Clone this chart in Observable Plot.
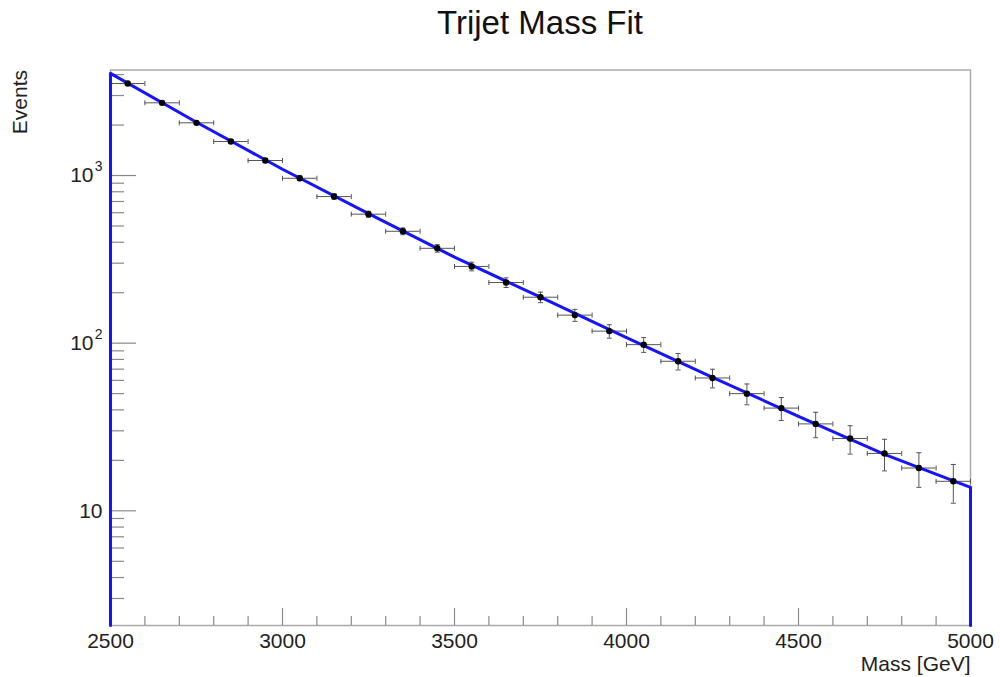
<!DOCTYPE html>
<html>
<head>
<meta charset="utf-8">
<script src="https://cdn.jsdelivr.net/npm/d3@7"></script>
<script src="https://cdn.jsdelivr.net/npm/@observablehq/plot@0.6"></script>
<style>
  html, body { margin: 0; padding: 0; background: #fff; }
  #wrap { position: relative; width: 1000px; height: 677px; font-family: "Liberation Sans", Arial, sans-serif; }
  #title { position: absolute; left: 540px; top: 4px; transform: translateX(-50%); font-size: 33px; color: #111; white-space: nowrap; }
  #chart { position: absolute; left: 0; top: 50px; }
</style>
</head>
<body>
<div id="wrap">
  <div id="title">Trijet Mass Fit</div>
  <div id="chart"></div>
</div>
<script>
// Bin centers (GeV), events per bin and their statistical errors
const binCenters = [2550, 2650, 2750, 2850, 2950, 3050, 3150, 3250, 3350, 3450, 3550, 3650, 3750, 3850, 3950, 4050, 4150, 4250, 4350, 4450, 4550, 4650, 4750, 4850, 4950];
const events = [3538, 2714, 2062, 1595, 1229, 963, 749, 588, 465, 368, 287, 230, 188, 147, 118, 98, 78, 62, 50, 41, 33, 27, 22, 18, 15];
const eventErrors = [59.5, 52.1, 45.4, 39.9, 35.1, 31.0, 27.4, 24.2, 21.6, 19.2, 16.9, 15.2, 13.7, 12.1, 10.9, 9.9, 8.8, 7.9, 7.1, 6.4, 5.7, 5.2, 4.7, 4.2, 3.9];
const binHalfWidth = 50;

// Fit curve
const fitMass = [2500, 2750, 3000, 3250, 3500, 3750, 4000, 4250, 4500, 4750, 5000];
const fitValues = [4070, 2080, 1090, 592, 326, 188, 108, 62.5, 36.6, 21.7, 13.8];

// Axis ranges and ticks
const xDomain = [2500, 5000];
const yDomain = [2.07, 4260];
const xMajorTicks = [2500, 3000, 3500, 4000, 4500, 5000];
const xMinorTicks = [2600, 2700, 2800, 2900, 3100, 3200, 3300, 3400, 3600, 3700, 3800, 3900, 4100, 4200, 4300, 4400, 4600, 4700, 4800, 4900];
const yMajorTicks = [10, 100, 1000];
const yMinorTicks = [3, 4, 5, 6, 7, 8, 9, 20, 30, 40, 50, 60, 70, 80, 90, 200, 300, 400, 500, 600, 700, 800, 900, 2000, 3000, 4000];
const yLabelPlain = [10];
const yLabelPower = [100, 1000];
const yLabelExponents = ["2", "3"];

const points = binCenters.map((m, i) => ({m, v: events[i], e: eventErrors[i]}));
const fitLine = [{m: xDomain[0], v: yDomain[0]}]
  .concat(fitMass.map((m, i) => ({m, v: fitValues[i]})))
  .concat([{m: xDomain[1], v: yDomain[0]}]);

const W = 1000, H = 627;
const mL = 110, mR = 30, mT = 19.5, mB = 52;
const innerW = W - mL - mR, innerH = H - mT - mB;

const capV = {draw(ctx) { ctx.moveTo(0, -2.5); ctx.lineTo(0, 2.5); }};
const capH = {draw(ctx) { ctx.moveTo(-2.5, 0); ctx.lineTo(2.5, 0); }};

const font = "Liberation Sans, Arial, sans-serif";
const tickColor = "#8a8a8a";
const textColor = "#222";

const chart = Plot.plot({
  width: W,
  height: H,
  marginLeft: mL,
  marginRight: mR,
  marginTop: mT,
  marginBottom: mB,
  style: {fontFamily: font, background: "#fff", overflow: "visible"},
  x: {type: "linear", domain: xDomain, axis: null},
  y: {type: "log", domain: yDomain, axis: null},
  marks: [
    Plot.frame({stroke: "#aaa", strokeWidth: 1.5}),
    // ticks (inward)
    Plot.tickX(xMajorTicks, {x: d => d, insetTop: innerH - 17, stroke: tickColor, strokeWidth: 1.2}),
    Plot.tickX(xMinorTicks, {x: d => d, insetTop: innerH - 9, stroke: tickColor, strokeWidth: 1.2}),
    Plot.tickY(yMajorTicks, {y: d => d, insetRight: innerW - 26, stroke: tickColor, strokeWidth: 1.2}),
    Plot.tickY(yMinorTicks, {y: d => d, insetRight: innerW - 14, stroke: tickColor, strokeWidth: 1.2}),
    // tick labels
    Plot.text(xMajorTicks, {x: d => d, frameAnchor: "bottom", dy: 22, text: d => String(d), fontSize: 21, fill: textColor}),
    Plot.text(yLabelPlain, {y: d => d, frameAnchor: "left", dx: -8, textAnchor: "end", text: d => "10", fontSize: 21, fill: textColor}),
    Plot.text(yLabelPower, {y: d => d, frameAnchor: "left", dx: -17, textAnchor: "end", text: d => "10", fontSize: 21, fill: textColor}),
    Plot.text(yLabelPower, {y: d => d, frameAnchor: "left", dx: -8, dy: -9, textAnchor: "end", text: (d, i) => yLabelExponents[i], fontSize: 14, fill: textColor}),
    // error bars
    Plot.ruleY(points, {y: "v", x1: d => d.m - binHalfWidth, x2: d => d.m + binHalfWidth, stroke: "#555", strokeWidth: 1}),
    Plot.ruleX(points, {x: "m", y1: d => d.v - d.e, y2: d => d.v + d.e, stroke: "#555", strokeWidth: 1}),
    Plot.dot(points, {x: d => d.m - binHalfWidth, y: "v", symbol: capV, r: 2, stroke: "#555", strokeWidth: 1, fill: "none"}),
    Plot.dot(points, {x: d => d.m + binHalfWidth, y: "v", symbol: capV, r: 2, stroke: "#555", strokeWidth: 1, fill: "none"}),
    Plot.dot(points, {x: "m", y: d => d.v - d.e, symbol: capH, r: 2, stroke: "#555", strokeWidth: 1, fill: "none"}),
    Plot.dot(points, {x: "m", y: d => d.v + d.e, symbol: capH, r: 2, stroke: "#555", strokeWidth: 1, fill: "none"}),
    // fit curve
    Plot.line(fitLine, {x: "m", y: "v", stroke: "#1414ff", strokeWidth: 3}),
    // data points
    Plot.dot(points, {x: "m", y: "v", r: 3.2, fill: "#000", stroke: "none"}),
    // axis titles
    Plot.text(["Mass [GeV]"], {frameAnchor: "bottom-right", dy: 45, textAnchor: "end", text: d => d, fontSize: 21, fill: textColor}),
    Plot.text(["Events"], {frameAnchor: "top-left", dx: -98, dy: 0, rotate: -90, textAnchor: "end", text: d => d, fontSize: 21, fill: textColor})
  ]
});
document.getElementById("chart").appendChild(chart);
</script>
</body>
</html>
